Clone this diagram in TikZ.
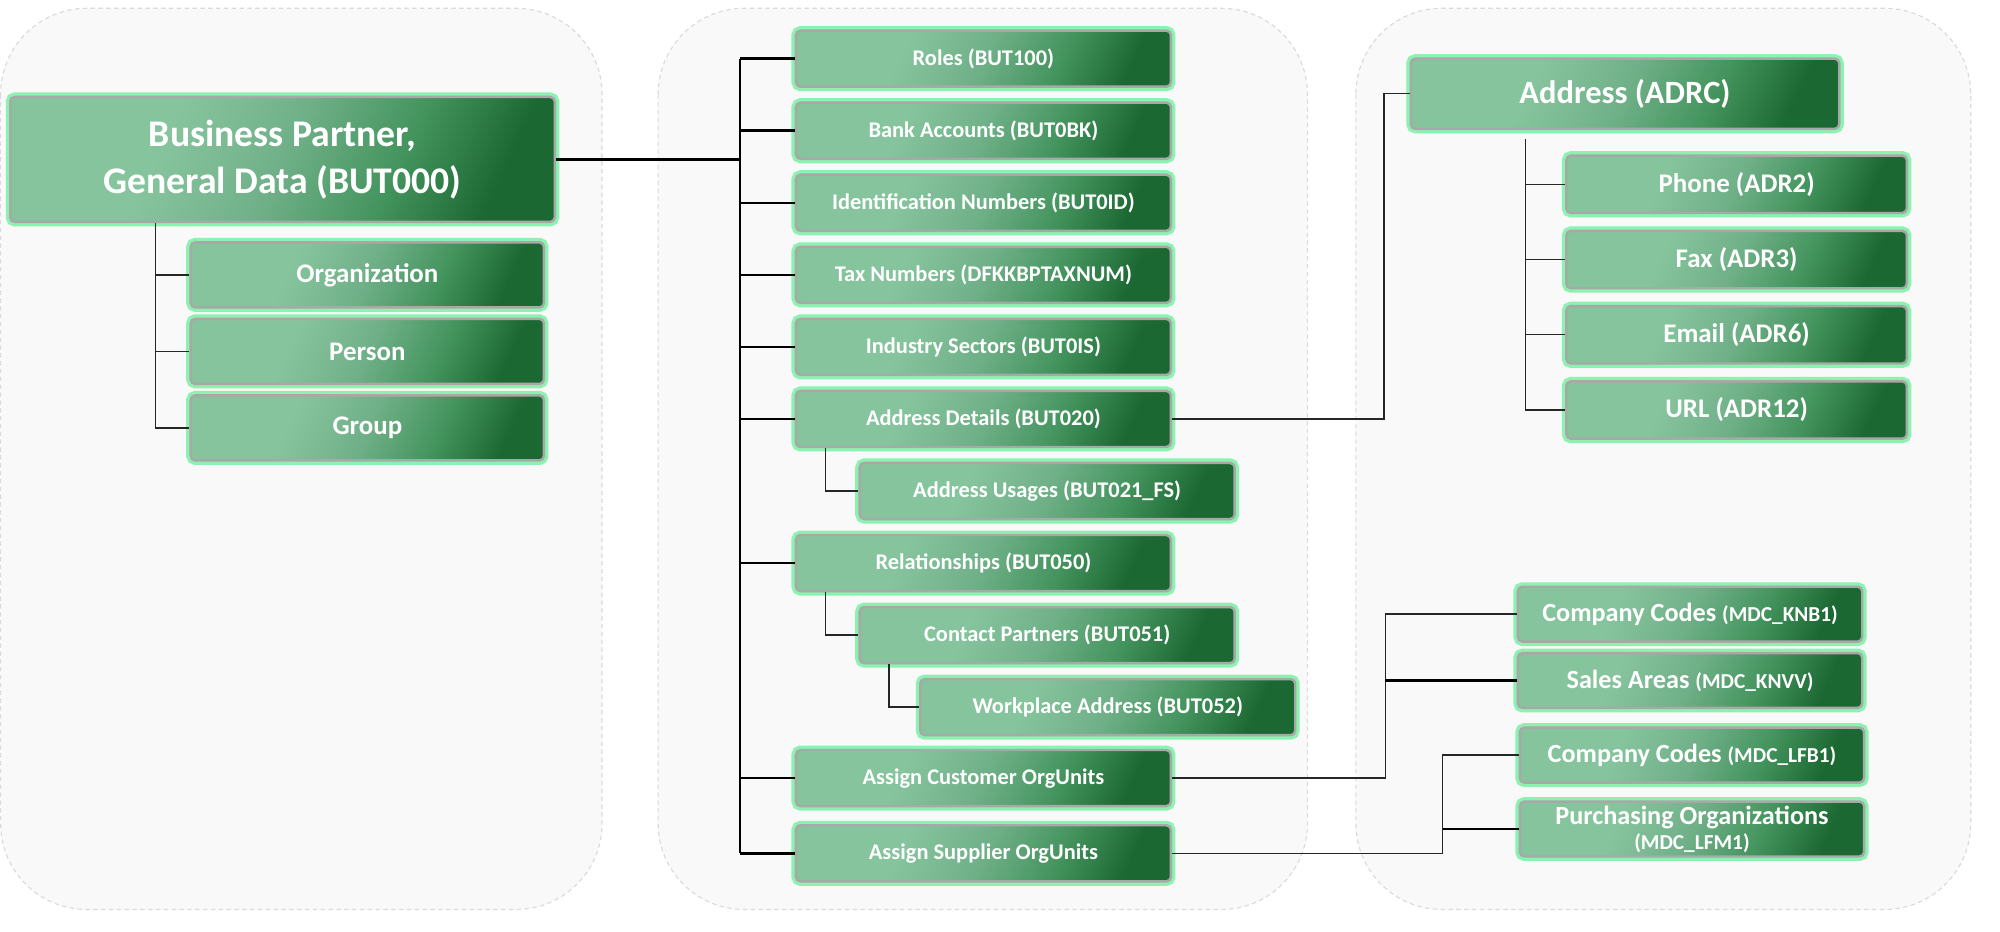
\documentclass[tikz,border=0pt]{standalone}
\usepackage{fontspec}
\setmainfont{Carlito}
\usetikzlibrary{positioning}

\definecolor{boxlight}{HTML}{86C49E}
\definecolor{boxmid}{HTML}{70B088}
\definecolor{boxdeep}{HTML}{44945E}
\definecolor{boxdark}{HTML}{1C6833}
\definecolor{boxrim}{HTML}{A8A8A8}
\definecolor{boxglow}{HTML}{8CF2B0}
\definecolor{panelfill}{HTML}{F9F9F9}
\definecolor{panelrim}{HTML}{DADADA}

\pgfdeclarehorizontalshading{boxshade}{100bp}{color(0bp)=(boxlight); color(25bp)=(boxlight);
  color(36bp)=(boxlight); color(50bp)=(boxmid); color(63bp)=(boxdeep); color(75bp)=(boxdark);
  color(100bp)=(boxdark)}

\begin{document}
\begin{tikzpicture}[x=0.02cm,y=-0.02cm,
  tbl/.style={rectangle,rounded corners=2pt,draw=boxrim,line width=1.1pt,
    preaction={draw=boxglow,line width=4pt},
    shading=boxshade,shading angle=-25,
    text=white,font=\bfseries,align=center,inner sep=1pt},
  head/.style={tbl,minimum width=8.54cm,minimum height=1.96cm,font=\bfseries\fontsize{16.8}{21}\selectfont},
  kind/.style={tbl,minimum width=5.54cm,minimum height=1.02cm,font=\bfseries\fontsize{12}{14}\selectfont},
  seg/.style={tbl,minimum width=5.88cm,minimum height=0.88cm,font=\bfseries\fontsize{10}{12}\selectfont},
  adr/.style={tbl,minimum width=6.72cm,minimum height=1.1cm,font=\bfseries\fontsize{14.5}{17}\selectfont},
  comm/.style={tbl,minimum width=5.34cm,minimum height=0.9cm,font=\bfseries\fontsize{12}{14}\selectfont},
  ounit/.style={tbl,minimum width=5.4cm,minimum height=0.86cm,font=\bfseries\fontsize{11.7}{13}\selectfont},
  panel/.style={fill=panelfill,draw=panelrim,line width=0.5pt,dash pattern=on 2pt off 1.5pt,rounded corners=1.35cm},
  trunk/.style={black,line width=1.1pt},
  link/.style={black!85,line width=0.6pt}]

  \useasboundingbox (0,0) rectangle (1568,730);
  \fill[white] (0,0) rectangle (1568,730);

  % the three panels
  \draw[panel] (0.5,6.5) rectangle (472,713);
  \draw[panel] (516,6.5) rectangle (1025,713);
  \draw[panel] (1063,6.5) rectangle (1545,713);

  % general data
  \node[head] (bp) at (221.5,125) {Business Partner,\\General Data (BUT000)};
  \node[kind] (org) at (288,215.5) {Organization};
  \node[kind,node distance=1.2cm] (person) [below of=org] {Person};
  \node[kind,node distance=1.2cm] (group) [below of=person] {Group};

  % dependent tables
  \begin{scope}[node distance=1.13cm]
    \node[seg] (roles) at (771,46) {Roles (BUT100)};
    \node[seg] (bank) [below of=roles] {Bank Accounts (BUT0BK)};
    \node[seg] (ident) [below of=bank] {Identification Numbers (BUT0ID)};
    \node[seg] (tax) [below of=ident] {Tax Numbers (DFKKBPTAXNUM)};
    \node[seg] (ind) [below of=tax] {Industry Sectors (BUT0IS)};
    \node[seg] (adet) [below of=ind] {Address Details (BUT020)};
    \node[seg] (usage) [below of=adet,xshift=1cm] {Address Usages (BUT021\_FS)};
    \node[seg] (rel) [below of=usage,xshift=-1cm] {Relationships (BUT050)};
    \node[seg] (contact) [below of=rel,xshift=1cm] {Contact Partners (BUT051)};
    \node[seg] (work) [below of=contact,xshift=0.95cm] {Workplace Address (BUT052)};
    \node[seg] (cust) at (771,610) {Assign Customer OrgUnits};
    \node[seg,node distance=1.18cm] (supp) [below of=cust] {Assign Supplier OrgUnits};
  \end{scope}

  % address and org units
  \node[adr] (adrc) at (1274,73.5) {Address (ADRC)};
  \begin{scope}[node distance=1.18cm]
    \node[comm] (phone) at (1361.5,144.5) {Phone (ADR2)};
    \node[comm] (fax) [below of=phone] {Fax (ADR3)};
    \node[comm] (email) [below of=fax] {Email (ADR6)};
    \node[comm] (url) [below of=email] {URL (ADR12)};
  \end{scope}
  \node[ounit] (knb1) at (1325,481.5) {Company Codes {\fontsize{9.5}{11}\selectfont(MDC\_KNB1)}};
  \node[ounit,node distance=1.04cm] (sales) [below of=knb1] {Sales Areas {\fontsize{9.5}{11}\selectfont(MDC\_KNVV)}};
  \node[ounit] (lfb1) at (1326.5,592) {Company Codes {\fontsize{9.5}{11}\selectfont(MDC\_LFB1)}};
  \node[ounit,node distance=1.16cm] (purch) [below of=lfb1] {Purchasing Organizations\\[-2pt]{\fontsize{9.5}{11}\selectfont(MDC\_LFM1)}};

  % connectors
  \coordinate (lt) at (122,0);
  \coordinate (tk) at (580,0);
  \coordinate (sb) at (647,0);
  \coordinate (wb) at (697,0);
  \coordinate (ab) at (1085,0);
  \coordinate (at) at (1196,0);
  \coordinate (cb) at (1086,0);
  \coordinate (vb) at (1131,0);

  \draw[link] (lt|-bp.south) |- (group.west);
  \foreach \n in {org,person}
    \draw[link] (lt|-\n.west) -- (\n.west);

  \draw[trunk] (bp.east) -- (tk|-bp.east);
  \draw[trunk] (tk|-roles.west) -- (tk|-supp.west);
  \foreach \n in {roles,bank,ident,tax,ind,adet,rel,cust,supp}
    \draw[trunk] (tk|-\n.west) -- (\n.west);
  \draw[link] (sb|-adet.south) |- (usage.west);
  \draw[link] (sb|-rel.south) |- (contact.west);
  \draw[link] (wb|-contact.south) |- (work.west);

  \draw[link] (adet.east) -| (ab|-adrc.west) -- (adrc.west);
  \draw[link] ([yshift=-4pt]at|-adrc.south) |- (url.west);
  \foreach \n in {phone,fax,email}
    \draw[link] (at|-\n.west) -- (\n.west);

  \draw[link] (cust.east) -| (cb|-knb1.west) -- (knb1.west);
  \draw[trunk] (cb|-sales.west) -- (sales.west);
  \draw[link] (supp.east) -| (vb|-lfb1.west) -- (lfb1.west);
  \draw[trunk] (vb|-purch.west) -- (purch.west);
\end{tikzpicture}
\end{document}
